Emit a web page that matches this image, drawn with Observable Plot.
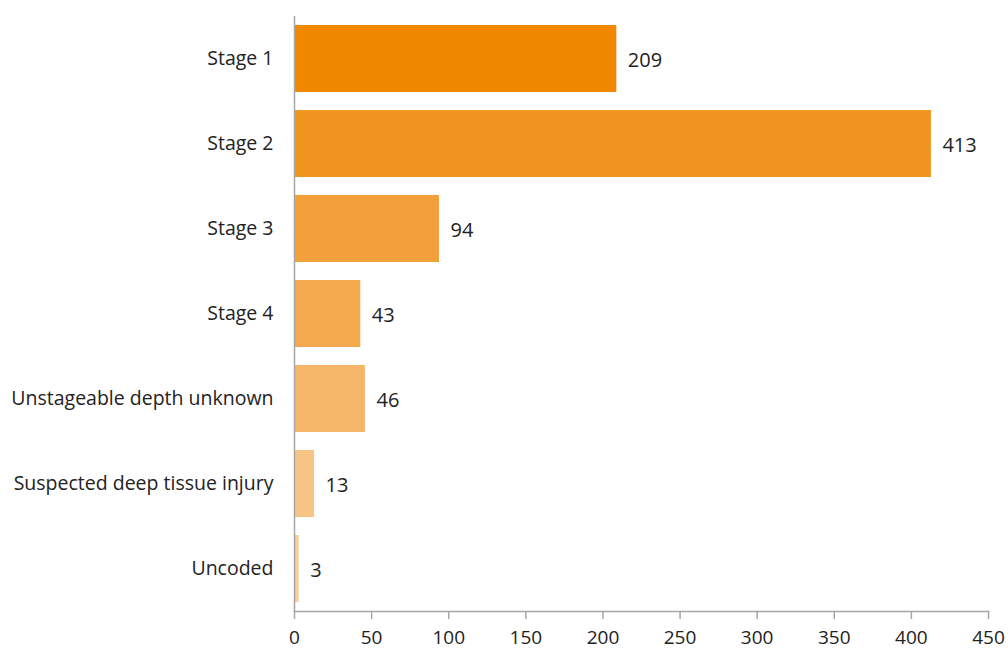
<!DOCTYPE html>
<html>
<head>
<meta charset="utf-8">
<script src="https://cdn.jsdelivr.net/npm/d3@7"></script>
<script src="https://cdn.jsdelivr.net/npm/@observablehq/plot@0.6"></script>
<style>
  html, body { margin: 0; padding: 0; background: #fff; }
  #chart { width: 1008px; height: 652px; }
</style>
</head>
<body>
<div id="chart"></div>
<script>
const categories = ["Stage 1", "Stage 2", "Stage 3", "Stage 4", "Unstageable depth unknown", "Suspected deep tissue injury", "Uncoded"];
const values = [209, 413, 94, 43, 46, 13, 3];
const colors = ["#F08800", "#F19521", "#F3A03A", "#F4A94F", "#F6B66A", "#F8C486", "#F9CD99"];
const xTicks = [0, 50, 100, 150, 200, 250, 300, 350, 400, 450];

const data = categories.map((c, i) => ({category: c, value: values[i], color: colors[i]}));
const font = "'Open Sans', sans-serif";

const chart = Plot.plot({
  width: 1008,
  height: 652,
  marginLeft: 294,
  marginRight: 20,
  marginTop: 16,
  marginBottom: 41,
  style: {fontFamily: font, fontSize: "19.5px", color: "#222", background: "#fff"},
  x: {domain: [0, 450], ticks: xTicks},
  y: {domain: categories, paddingInner: 0.212, paddingOuter: 0.106},
  marks: [
    Plot.barX(data, {x: "value", y: "category", fill: "color"}),
    Plot.text(data, {x: "value", y: "category", text: d => String(d.value), textAnchor: "start", dx: 11, dy: 2, fontSize: 20, fill: "#222"}),
    Plot.ruleX([0], {stroke: "#a6a6a6", strokeWidth: 1.5}),
    Plot.frame({anchor: "bottom", stroke: "#a6a6a6", strokeWidth: 1.5}),
    Plot.axisX({ticks: xTicks, tickSize: 8, tickPadding: 11, stroke: "#a6a6a6", strokeWidth: 1.5, fill: "#222", fontSize: 19, label: null}),
    Plot.axisY({tickSize: 0, tickPadding: 21, fill: "#222", fontSize: 19.5, label: null})
  ]
});
document.getElementById("chart").appendChild(chart);
</script>
</body>
</html>
